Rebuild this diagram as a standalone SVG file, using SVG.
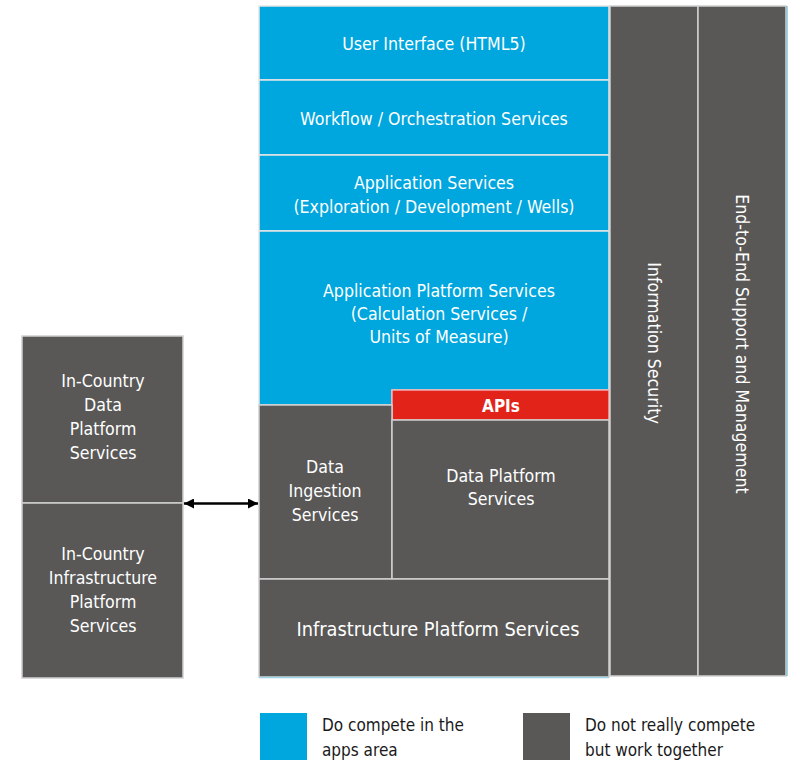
<svg xmlns="http://www.w3.org/2000/svg" width="792" height="763" viewBox="0 0 792 763">
<style>
.b{fill:#00A6DE;stroke:#E6E6E6;stroke-width:1.5}
.g{fill:#595857;stroke:#D0D0D0;stroke-width:1.5}
.r{fill:#E2231A;stroke:#F0B0B0;stroke-width:1.5}
text{font-family:"Liberation Sans Narrow","DejaVu Sans Condensed","Roboto",sans-serif;font-size:17.6px;fill:#FFFFFF;text-anchor:middle;dominant-baseline:central}
.k{fill:#1A1A1A;text-anchor:start;font-size:17px}
</style>
<defs>
<marker id="ah" viewBox="0 0 10 10" refX="10" refY="5" markerWidth="10" markerHeight="10" markerUnits="userSpaceOnUse" orient="auto-start-reverse">
<path d="M0,0 L10,5 L0,10 z" fill="#000"/>
</marker>
</defs>
<g id="ui"><rect class="b" x="259" y="6" width="350" height="74"/><text x="434" y="44">User Interface (HTML5)</text></g>
<g id="workflow"><rect class="b" x="259" y="80" width="350" height="75"/><text x="434" y="119">Workflow / Orchestration Services</text></g>
<g id="appsvc"><rect class="b" x="259" y="155" width="350" height="76"/><text x="434" y="183">Application Services</text><text x="434" y="207">(Exploration / Development / Wells)</text></g>
<g id="appplat"><path class="b" d="M259,231 H609 V390 H392 V405 H259 Z"/><text x="439" y="291">Application Platform Services</text><text x="439" y="314">(Calculation Services /</text><text x="439" y="337">Units of Measure)</text></g>
<g id="apis"><rect class="r" x="392" y="390" width="217" height="30"/><text x="501" y="406" style="font-weight:bold;font-size:17px">APIs</text></g>
<g id="ingest"><rect class="g" x="259" y="405" width="133" height="174"/><text x="325" y="467">Data</text><text x="325" y="491">Ingestion</text><text x="325" y="515">Services</text></g>
<g id="dataplat"><rect class="g" x="392" y="420" width="217" height="159"/><text x="501" y="476">Data Platform</text><text x="501" y="499">Services</text></g>
<g id="infra"><rect class="g" x="259" y="579" width="350" height="98"/><line x1="259" y1="677.5" x2="609" y2="677.5" stroke="#9CD3E6" stroke-width="1.5"/><text x="438" y="629" style="font-size:19.8px">Infrastructure Platform Services</text></g>
<g id="infosec"><rect class="g" x="610" y="6" width="88" height="670"/><text transform="translate(654,343) rotate(90)">Information Security</text></g>
<g id="e2e"><rect class="g" x="698" y="6" width="88" height="670"/><line x1="787" y1="6" x2="787" y2="676" stroke="#6FB4CF" stroke-width="1.2"/><text transform="translate(742,344) rotate(90)">End-to-End Support and Management</text></g>
<g id="icdata"><rect class="g" x="22" y="336" width="161" height="167"/><text x="103" y="381">In-Country</text><text x="103" y="405">Data</text><text x="103" y="429">Platform</text><text x="103" y="453">Services</text></g>
<g id="icinfra"><rect class="g" x="22" y="503" width="161" height="175"/><text x="103" y="554">In-Country</text><text x="103" y="578">Infrastructure</text><text x="103" y="602">Platform</text><text x="103" y="626">Services</text></g>
<g id="connectors"><line x1="184" y1="503.5" x2="258" y2="503.5" stroke="#000" stroke-width="2.5" marker-start="url(#ah)" marker-end="url(#ah)"/></g>
<g id="legend">
<rect x="260" y="713" width="47" height="47" fill="#00A6DE"/>
<text class="k" x="322" y="725">Do compete in the</text><text class="k" x="322" y="750">apps area</text>
<rect x="523" y="713" width="47" height="47" fill="#595857"/>
<text class="k" x="585" y="725">Do not really compete</text><text class="k" x="585" y="750">but work together</text>
</g>
</svg>
